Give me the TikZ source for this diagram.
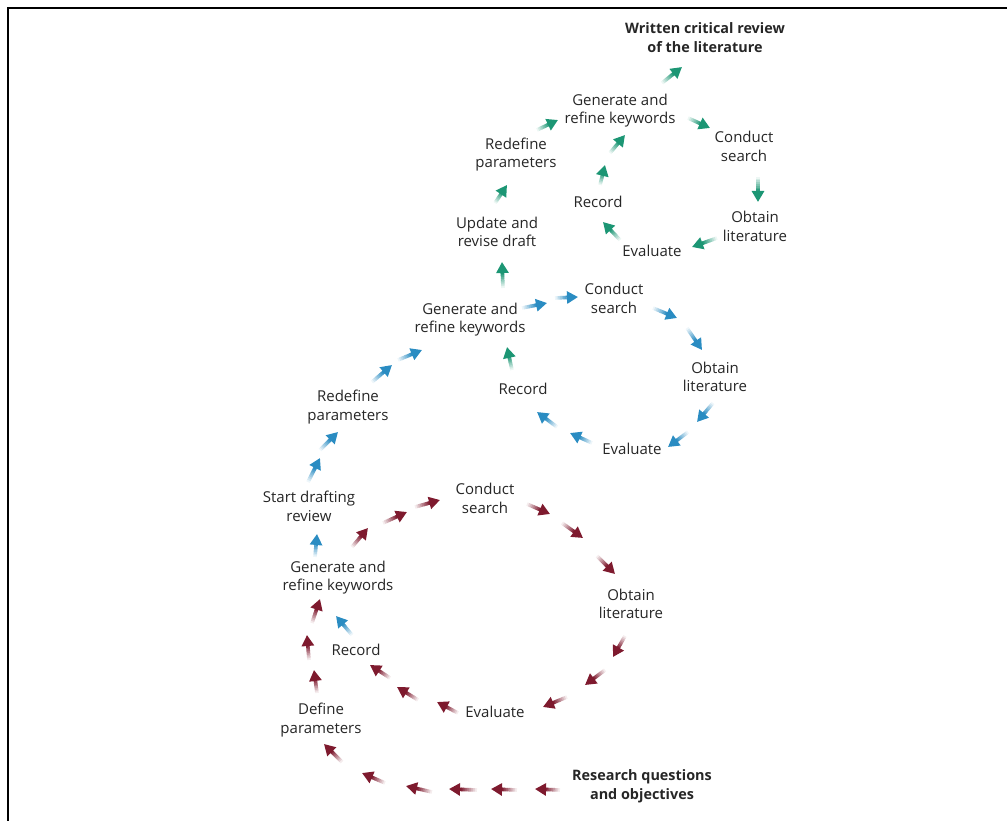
\documentclass[tikz,border=0pt]{standalone}
\usepackage{fontspec}
\setmainfont{Open Sans}
\usetikzlibrary{calc,arrows.meta}
\definecolor{cred}{HTML}{7E1A2E}
\definecolor{cblue}{HTML}{2A8CC2}
\definecolor{cgreen}{HTML}{1C9674}
\definecolor{ctext}{HTML}{262626}
\tikzset{
  lbl/.style={align=center, text=ctext, inner sep=0pt,
    font=\fontsize{15}{18.5}\selectfont},
  lblb/.style={lbl, font=\fontsize{14.4}{18.5}\selectfont\bfseries},
}
% short arrow whose shaft fades out towards its tail
\newcommand{\fa}[3]{%
  \foreach \i in {0,...,7}{%
    \pgfmathsetmacro\p{int(8+\i*12)}%
    \pgfmathsetmacro\a{\i*0.07}%
    \pgfmathsetmacro\b{\i*0.07+0.08}%
    \draw[line width=3.6pt, draw=#1!\p!white]
      ($(#2)!\a!(#3)$) -- ($(#2)!\b!(#3)$);
  }%
  \draw[#1, line width=3.6pt, -{Triangle[length=11pt,width=12pt]}]
    ($(#2)!0.55!(#3)$) -- (#3);
}
\begin{document}
\begin{tikzpicture}[x=1pt,y=-1pt]
\useasboundingbox (0,0) rectangle (1007,821);
% frame
\draw[line width=2.5pt, black] (8,821) -- (8,8) -- (1007,8);

% ---- labels ----
\node[lblb] (wcr) at (705,37.5) {Written critical review\\of the literature};
% third cycle
\node[lbl] (gen3) at (620,110.5) {Generate and\\refine keywords};
\node[lbl] (con3) at (744,146.5) {Conduct\\search};
\node[lbl] (obt3) at (755,226.5) {Obtain\\literature};
\node[lbl] (eva3) at (652,251) {Evaluate};
\node[lbl] (rec3) at (598,202) {Record};
\node[lbl] (red3) at (516,154.5) {Redefine\\parameters};
\node[lbl] (upd) at (497,232) {Update and\\revise draft};
% second cycle
\node[lbl] (gen2) at (470,319.5) {Generate and\\refine keywords};
\node[lbl] (con2) at (614,298.5) {Conduct\\search};
\node[lbl] (obt2) at (715,377) {Obtain\\literature};
\node[lbl] (eva2) at (632,449) {Evaluate};
\node[lbl] (rec2) at (523,389) {Record};
\node[lbl] (red2) at (348,407) {Redefine\\parameters};
\node[lbl] (sdr) at (309,506.5) {Start drafting\\review};
% first cycle
\node[lbl] (con1) at (485,498.5) {Conduct\\search};
\node[lbl] (obt1) at (631,604) {Obtain\\literature};
\node[lbl] (eva1) at (495,712) {Evaluate};
\node[lbl] (rec1) at (356,650) {Record};
\node[lbl] (gen1) at (338,577.5) {Generate and\\refine keywords};
\node[lbl] (def1) at (321,720) {Define\\parameters};
\node[lblb] (rqo) at (642,786.5) {Research questions\\and objectives};

% ---- first cycle (red) ----
\fa{cred}{560,790}{535,789}
\fa{cred}{517,790}{491,789}
\fa{cred}{477,790}{449,789}
\fa{cred}{432,792}{406,786}
\fa{cred}{385,783}{362,773}
\fa{cred}{342,762}{324,744}
\fa{cred}{317,693}{314,670}
\fa{cred}{309,660}{307,635}
\fa{cred}{312,623}{320,599}
\fa{cred}{352,547}{368,528}
\fa{cred}{383,523}{407,512}
\fa{cred}{415,507}{440,500}
\fa{cred}{527,504}{550,514}
\fa{cred}{562,523}{583,538}
\fa{cred}{597,556}{615,574}
\fa{cred}{625,636}{613,657}
\fa{cred}{605,670}{585,685}
\fa{cred}{567,697}{543,707}
\fa{cred}{458,713}{437,702}
\fa{cred}{418,700}{397,687}
\fa{cred}{390,678}{370,665}

% ---- second cycle (blue) ----
\fa{cblue}{352,635}{336,616}
\fa{cblue}{315,557}{317,534}
\fa{cblue}{308,482}{320,458}
\fa{cblue}{320,450}{338,432}
\fa{cblue}{372,382}{392,365}
\fa{cblue}{398,360}{422,350}
\fa{cblue}{522,308}{547,303}
\fa{cblue}{555,298}{578,297}
\fa{cblue}{653,308}{677,318}
\fa{cblue}{687,328}{702,350}
\fa{cblue}{713,403}{697,422}
\fa{cblue}{688,432}{668,447}
\fa{cblue}{592,443}{570,433}
\fa{cblue}{557,427}{537,412}

% ---- third cycle (green) ----
\fa{cgreen}{512,370}{507,347}
\fa{cgreen}{503,288}{502,262}
\fa{cgreen}{495,203}{507,185}
\fa{cgreen}{537,130}{558,120}
\fa{cgreen}{662,83}{682,67}
\fa{cgreen}{688,118}{710,128}
\fa{cgreen}{758,177}{758,202}
\fa{cgreen}{717,238}{692,247}
\fa{cgreen}{620,240}{603,222}
\fa{cgreen}{600,185}{605,165}
\fa{cgreen}{610,153}{625,135}
\end{tikzpicture}
\end{document}
